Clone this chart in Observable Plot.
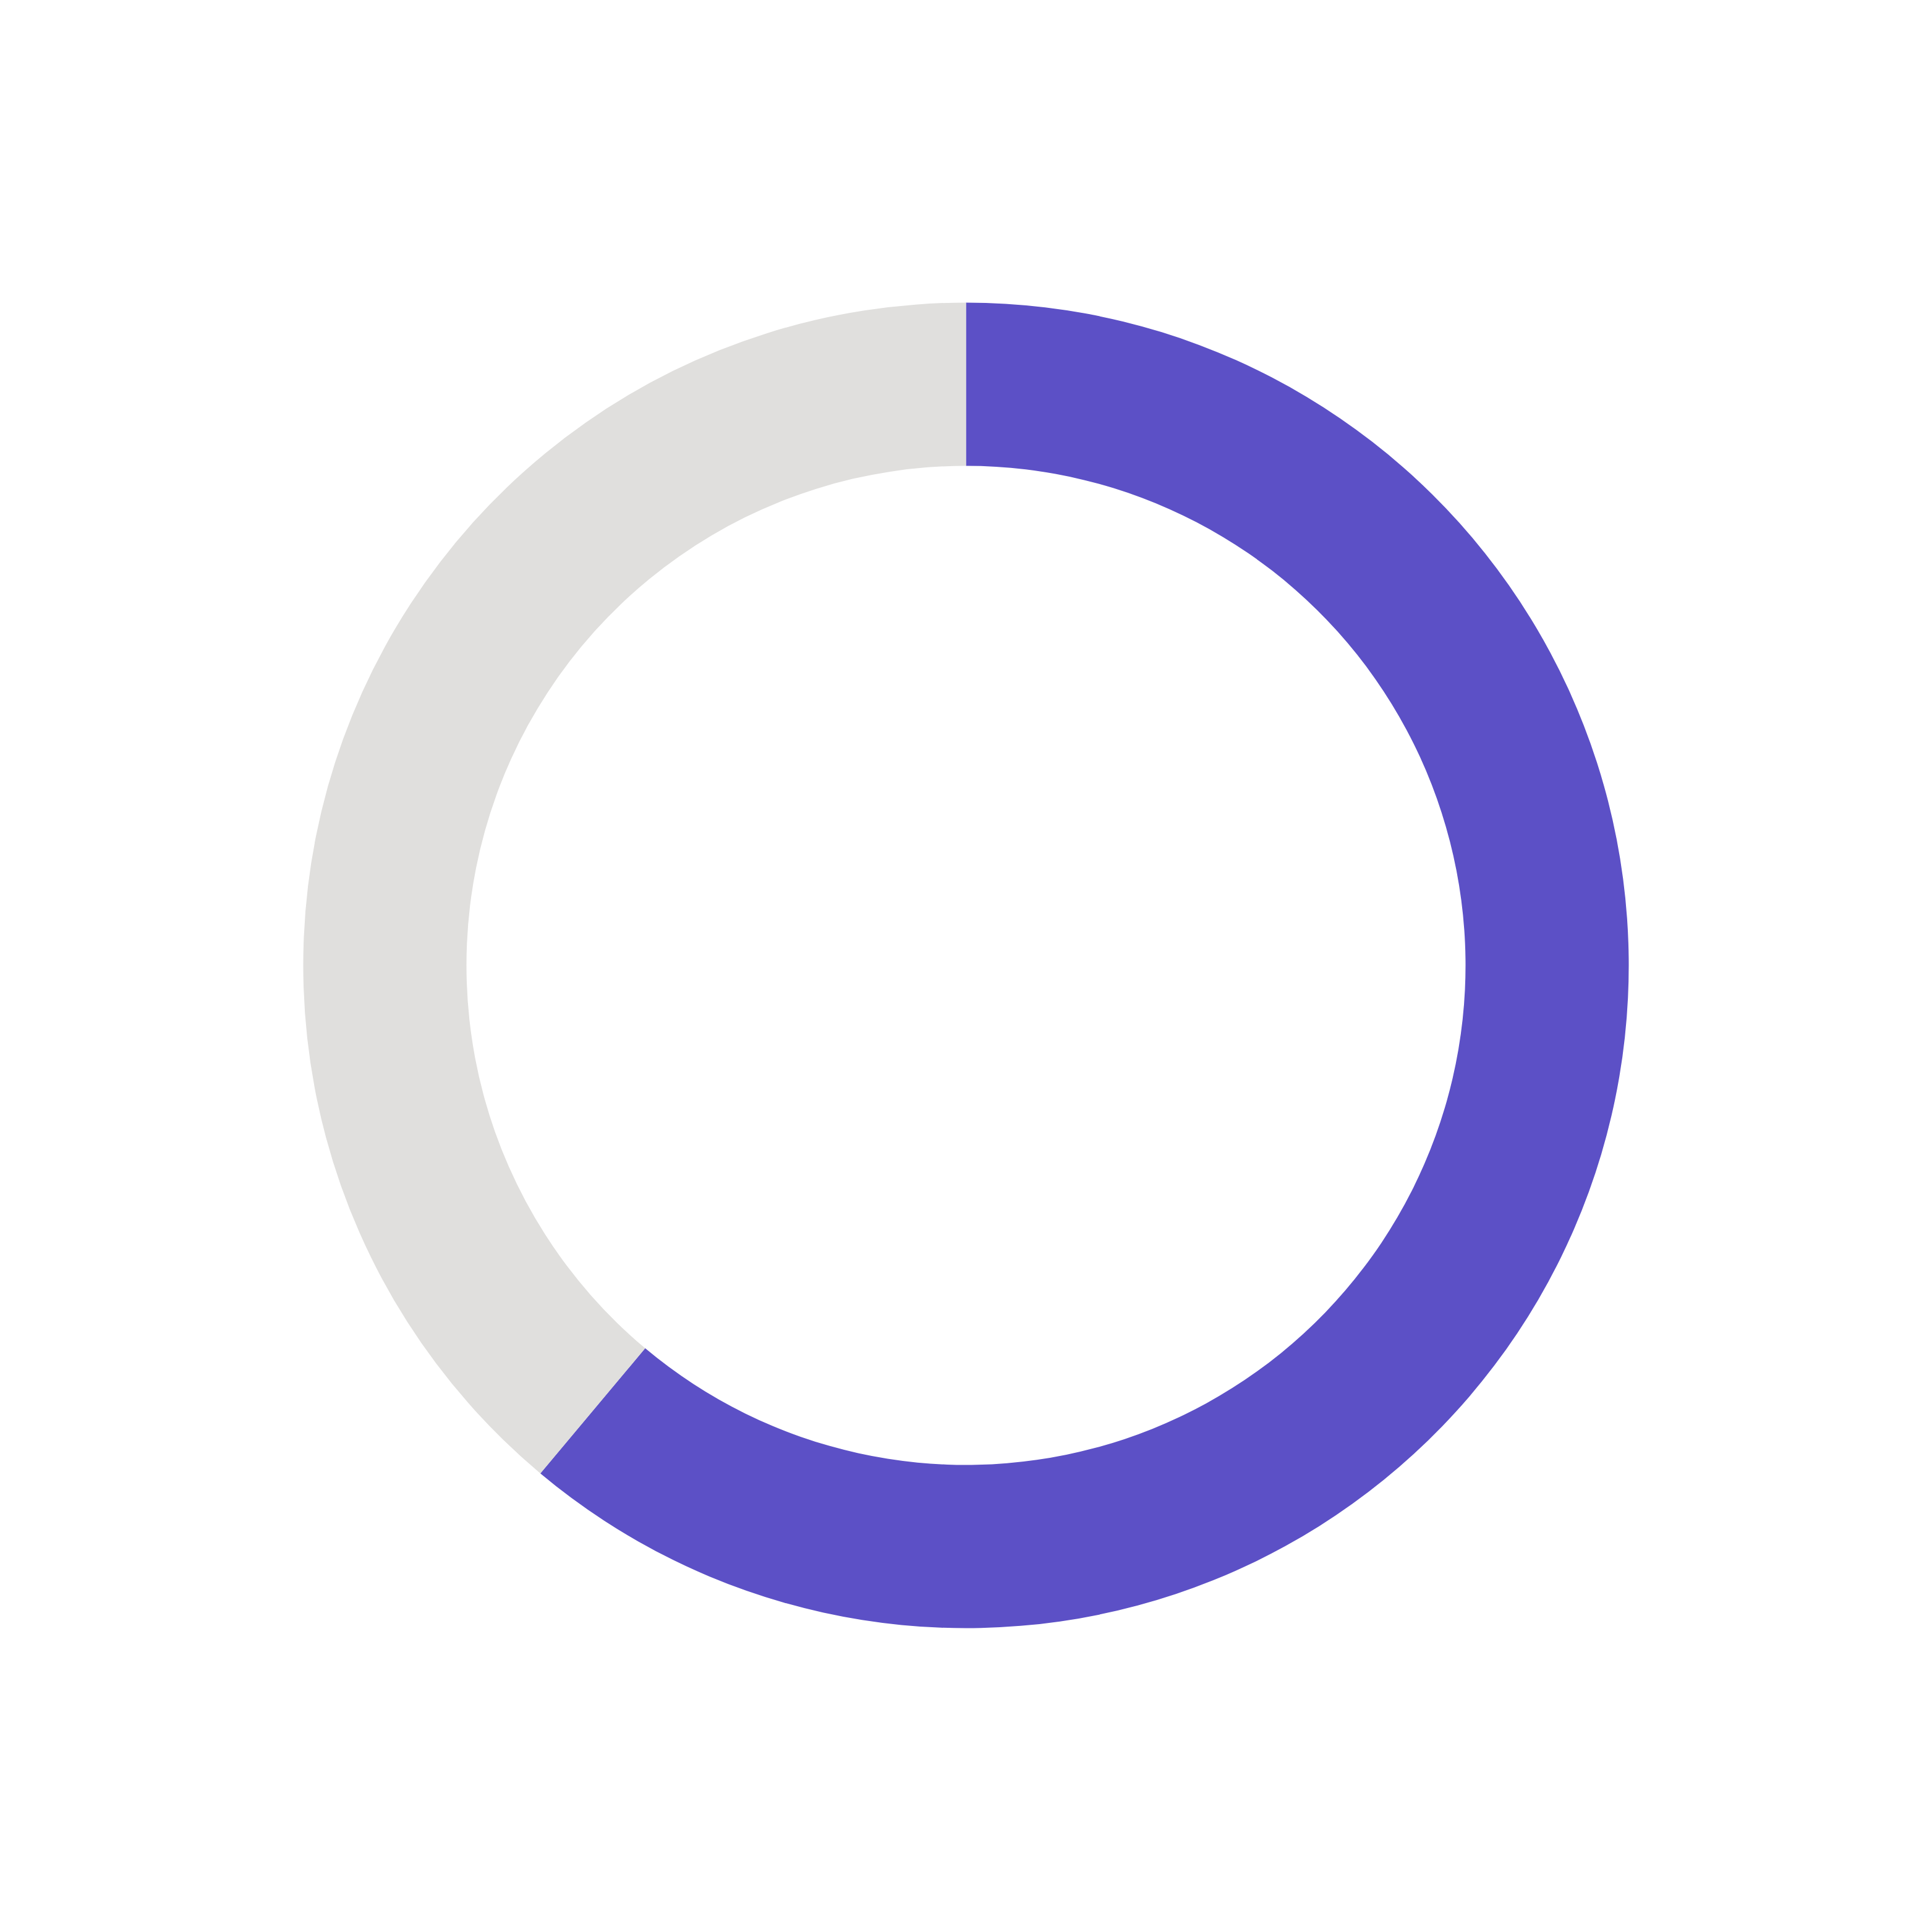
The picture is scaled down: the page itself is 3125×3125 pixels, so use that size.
<!DOCTYPE html>
<html>
<head>
<meta charset="utf-8">
<script src="https://cdn.jsdelivr.net/npm/d3@7"></script>
<script src="https://cdn.jsdelivr.net/npm/@observablehq/plot@0.6"></script>
<style>
  html, body { margin: 0; padding: 0; background: #ffffff; }
  #chart svg { display: block; }
</style>
</head>
<body>
<div id="chart"></div>
<script>
const categories = ["Filled", "Remaining"];
const values = [61.1, 38.9];
const colors = ["#5C50C6", "#E0DFDD"];

const data = categories.map((c, i) => ({category: c, value: values[i]}));

const W = 3125, H = 3125;
const outerR = 1072, innerR = 808;

const donut = (index, scales, channels, dimensions, context) => {
  const color = scales.color || d3.scaleOrdinal(categories, colors);
  const pie = d3.pie().value(d => d.value).sort(null).startAngle(0).endAngle(2 * Math.PI);
  const arc = d3.arc().innerRadius(innerR).outerRadius(outerR);
  const g = d3.create("svg:g")
    .attr("transform", `translate(${dimensions.width / 2},${dimensions.height / 2 - 1})`);
  g.selectAll("path")
    .data(pie(data))
    .join("path")
    .attr("d", arc)
    .attr("fill", d => color(d.data.category));
  return g.node();
};

const chart = Plot.plot({
  width: W,
  height: H,
  margin: 0,
  style: {background: "#ffffff"},
  color: {domain: categories, range: colors},
  marks: [donut]
});
document.getElementById("chart").append(chart);
</script>
</body>
</html>
